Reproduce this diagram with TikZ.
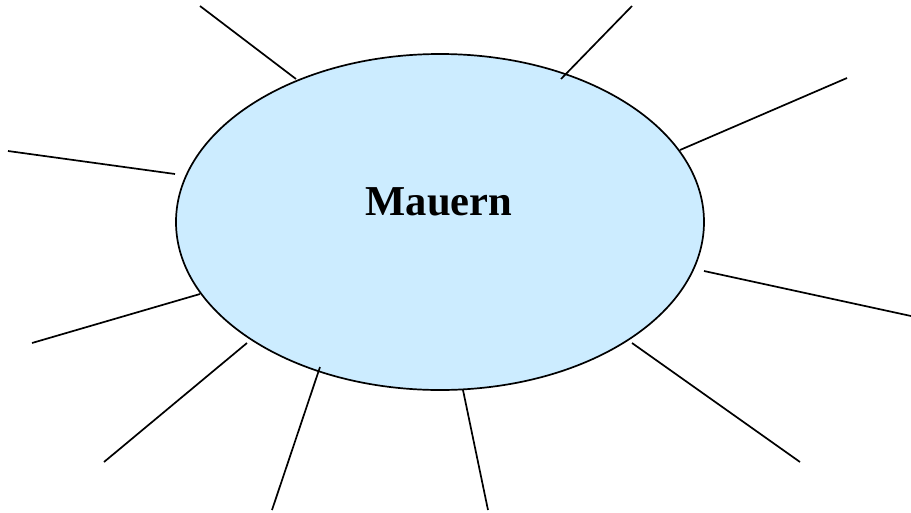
\documentclass[tikz,border=0pt]{standalone}
\usepackage{fontspec}
\setmainfont{Liberation Serif}
\definecolor{ellfill}{HTML}{CCECFF}
\begin{document}
\begin{tikzpicture}[x=1pt,y=-1pt,
  spoke/.style={line width=1.7pt},
  outline/.style={line width=1.7pt, fill=ellfill}]
\useasboundingbox (0,0) rectangle (911,512);
\draw[outline] (440,222) ellipse [x radius=264, y radius=168];
\node[font=\bfseries\fontsize{42.6}{48}\selectfont, anchor=base] (title) at (439,215) {Mauern};
\coordinate (a1) at (296,79);  \coordinate (b1) at (200,6);
\coordinate (a2) at (561,79);  \coordinate (b2) at (632,6);
\coordinate (a3) at (680,150); \coordinate (b3) at (847,78);
\coordinate (a4) at (175,174); \coordinate (b4) at (8,151);
\coordinate (a5) at (704,271); \coordinate (b5) at (911,316);
\coordinate (a6) at (200,294); \coordinate (b6) at (32,343);
\coordinate (a7) at (632,343); \coordinate (b7) at (800,462);
\coordinate (a8) at (247,343); \coordinate (b8) at (104,462);
\coordinate (a9) at (320,367); \coordinate (b9) at (272,510);
\coordinate (a10) at (463,390); \coordinate (b10) at (488,510);
\foreach \i in {1,...,10} \draw[spoke] (a\i) -- (b\i);
\end{tikzpicture}
\end{document}
